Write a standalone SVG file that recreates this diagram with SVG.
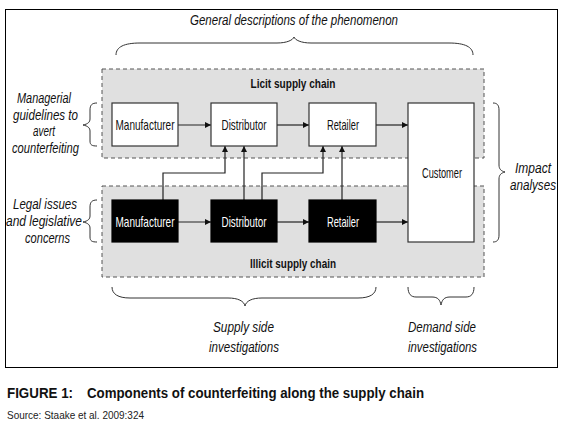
<svg xmlns="http://www.w3.org/2000/svg" width="572" height="432" viewBox="0 0 572 432">
<style>
.t{font-family:"Liberation Sans Narrow","Liberation Sans",Arial,sans-serif;}
.box{font-size:15px;text-anchor:middle;fill:#111;}
.boxw{font-size:15px;text-anchor:middle;fill:#fff;}
.it{font-size:15.5px;font-style:italic;text-anchor:middle;fill:#111;}
.bold{font-size:13px;font-weight:bold;text-anchor:middle;fill:#111;}
.area{fill:#e0e0e0;stroke:#555;stroke-width:1;stroke-dasharray:4,3;}
.nb{fill:#fff;stroke:#333;stroke-width:1.2;}
.nk{fill:#000;stroke:#000;stroke-width:1.2;}
.c{fill:none;stroke:#222;stroke-width:1.2;}
.br{fill:none;stroke:#333;stroke-width:1;}
.cap{font-family:"Liberation Sans",Arial,sans-serif;font-weight:bold;font-size:14px;fill:#111;}
.src{font-family:"Liberation Sans",Arial,sans-serif;font-size:11px;fill:#222;}
</style>
<defs>
<marker id="ah" viewBox="0 0 10 10" refX="10" refY="5" markerWidth="6" markerHeight="6" markerUnits="userSpaceOnUse" orient="auto">
<path d="M0,0 L10,5 L0,10 z" fill="#111"/>
</marker>
</defs>
<rect x="0" y="0" width="572" height="432" fill="#fff"/>
<rect x="5.5" y="9.5" width="552" height="358" fill="none" stroke="#000" stroke-width="1"/>

<g id="licit-area">
<rect class="area" x="102" y="69" width="382" height="89"/>
<text class="t bold" x="293" y="88" textLength="85" lengthAdjust="spacingAndGlyphs">Licit supply chain</text>
</g>
<g id="illicit-area">
<rect class="area" x="102" y="186" width="382" height="91"/>
<text class="t bold" x="293" y="268" textLength="86" lengthAdjust="spacingAndGlyphs">Illicit supply chain</text>
</g>

<g id="connectors">
<path class="c" d="M178,125 H211" marker-end="url(#ah)"/>
<path class="c" d="M277,125 H309" marker-end="url(#ah)"/>
<path class="c" d="M376,125 H408" marker-end="url(#ah)"/>
<path class="c" d="M178,222 H211" marker-end="url(#ah)"/>
<path class="c" d="M277,222 H309" marker-end="url(#ah)"/>
<path class="c" d="M376,222 H408" marker-end="url(#ah)"/>
<path class="c" d="M163,200 V173 H225 V146" marker-end="url(#ah)"/>
<path class="c" d="M244,200 V146" marker-end="url(#ah)"/>
<path class="c" d="M262,200 V173 H323 V146" marker-end="url(#ah)"/>
<path class="c" d="M342,200 V146" marker-end="url(#ah)"/>
</g>

<g id="licit-manufacturer">
<rect class="nb" x="112" y="103" width="66" height="43"/>
<text class="t box" x="145" y="130" textLength="59" lengthAdjust="spacingAndGlyphs">Manufacturer</text>
</g>
<g id="licit-distributor">
<rect class="nb" x="211" y="103" width="66" height="43"/>
<text class="t box" x="244" y="130" textLength="45" lengthAdjust="spacingAndGlyphs">Distributor</text>
</g>
<g id="licit-retailer">
<rect class="nb" x="309" y="103" width="67" height="43"/>
<text class="t box" x="343" y="130" textLength="32" lengthAdjust="spacingAndGlyphs">Retailer</text>
</g>
<g id="customer">
<rect class="nb" x="408" y="103" width="66" height="139"/>
<text class="t box" x="442" y="178" textLength="40" lengthAdjust="spacingAndGlyphs">Customer</text>
</g>
<g id="illicit-manufacturer">
<rect class="nk" x="112" y="200" width="66" height="42"/>
<text class="t boxw" x="145" y="227" textLength="59" lengthAdjust="spacingAndGlyphs">Manufacturer</text>
</g>
<g id="illicit-distributor">
<rect class="nk" x="211" y="200" width="66" height="42"/>
<text class="t boxw" x="244" y="227" textLength="45" lengthAdjust="spacingAndGlyphs">Distributor</text>
</g>
<g id="illicit-retailer">
<rect class="nk" x="309" y="200" width="67" height="42"/>
<text class="t boxw" x="343" y="227" textLength="32" lengthAdjust="spacingAndGlyphs">Retailer</text>
</g>

<g id="general-descriptions">
<path class="br" d="M116,55 C116,47 124,43 140,43 L277,43 C287,43 293,40 294,37 C295,40 301,43 311,43 L449,43 C465,43 473,47 473,55"/>
<text class="t it" x="294" y="25" textLength="208" lengthAdjust="spacingAndGlyphs">General descriptions of the phenomenon</text>
</g>
<g id="managerial-guidelines">
<path class="br" d="M97,103 C92,103 90,105 90,110 L90,119 C90,122 88,124 83,125 C88,126 90,128 90,131 L90,141 C90,145 92,146 97,146"/>
<text class="t it" x="44" y="103" textLength="54" lengthAdjust="spacingAndGlyphs">Managerial</text>
<text class="t it" x="45.5" y="119.5" textLength="65" lengthAdjust="spacingAndGlyphs">guidelines to</text>
<text class="t it" x="44" y="136" textLength="22" lengthAdjust="spacingAndGlyphs">avert</text>
<text class="t it" x="45.5" y="152.5" textLength="67" lengthAdjust="spacingAndGlyphs">counterfeiting</text>
</g>
<g id="legal-issues">
<path class="br" d="M97,200 C92,200 90,202 90,207 L90,216 C90,219 88,221 83,222 C88,223 90,225 90,228 L90,237 C90,241 92,242 97,242"/>
<text class="t it" x="45" y="209" textLength="64" lengthAdjust="spacingAndGlyphs">Legal issues</text>
<text class="t it" x="44" y="226" textLength="76" lengthAdjust="spacingAndGlyphs">and legislative</text>
<text class="t it" x="47.5" y="243" textLength="45" lengthAdjust="spacingAndGlyphs">concerns</text>
</g>
<g id="impact-analyses">
<path class="br" d="M493,103 C497,103 499,105 499,110 L499,165 C499,169 501,171 505,172 C501,173 499,175 499,179 L499,235 C499,240 497,242 493,242"/>
<text class="t it" x="533" y="173" textLength="36" lengthAdjust="spacingAndGlyphs">Impact</text>
<text class="t it" x="533" y="190" textLength="46" lengthAdjust="spacingAndGlyphs">analyses</text>
</g>
<g id="supply-side">
<path class="br" d="M112,287 C112,294 118,298 130,298 L228,298 C238,298 244,301 245,306 C246,301 252,298 262,298 L358,298 C370,298 376,294 376,287"/>
<text class="t it" x="243.5" y="332" textLength="61" lengthAdjust="spacingAndGlyphs">Supply side</text>
<text class="t it" x="244" y="352" textLength="70" lengthAdjust="spacingAndGlyphs">investigations</text>
</g>
<g id="demand-side">
<path class="br" d="M408,287 C408,294 411,297 416,297 L432,297 C438,297 440,300 441,305 C442,300 444,297 450,297 L466,297 C471,297 474,294 474,287"/>
<text class="t it" x="442" y="332" textLength="68" lengthAdjust="spacingAndGlyphs">Demand side</text>
<text class="t it" x="442.5" y="352" textLength="69" lengthAdjust="spacingAndGlyphs">investigations</text>
</g>

<g id="caption">
<text class="cap" x="7" y="398" textLength="66" lengthAdjust="spacingAndGlyphs">FIGURE 1:</text>
<text class="cap" x="87" y="398" textLength="337" lengthAdjust="spacingAndGlyphs">Components of counterfeiting along the supply chain</text>
<text class="src" x="7" y="419" textLength="137" lengthAdjust="spacingAndGlyphs">Source: Staake et al. 2009:324</text>
</g>
</svg>
